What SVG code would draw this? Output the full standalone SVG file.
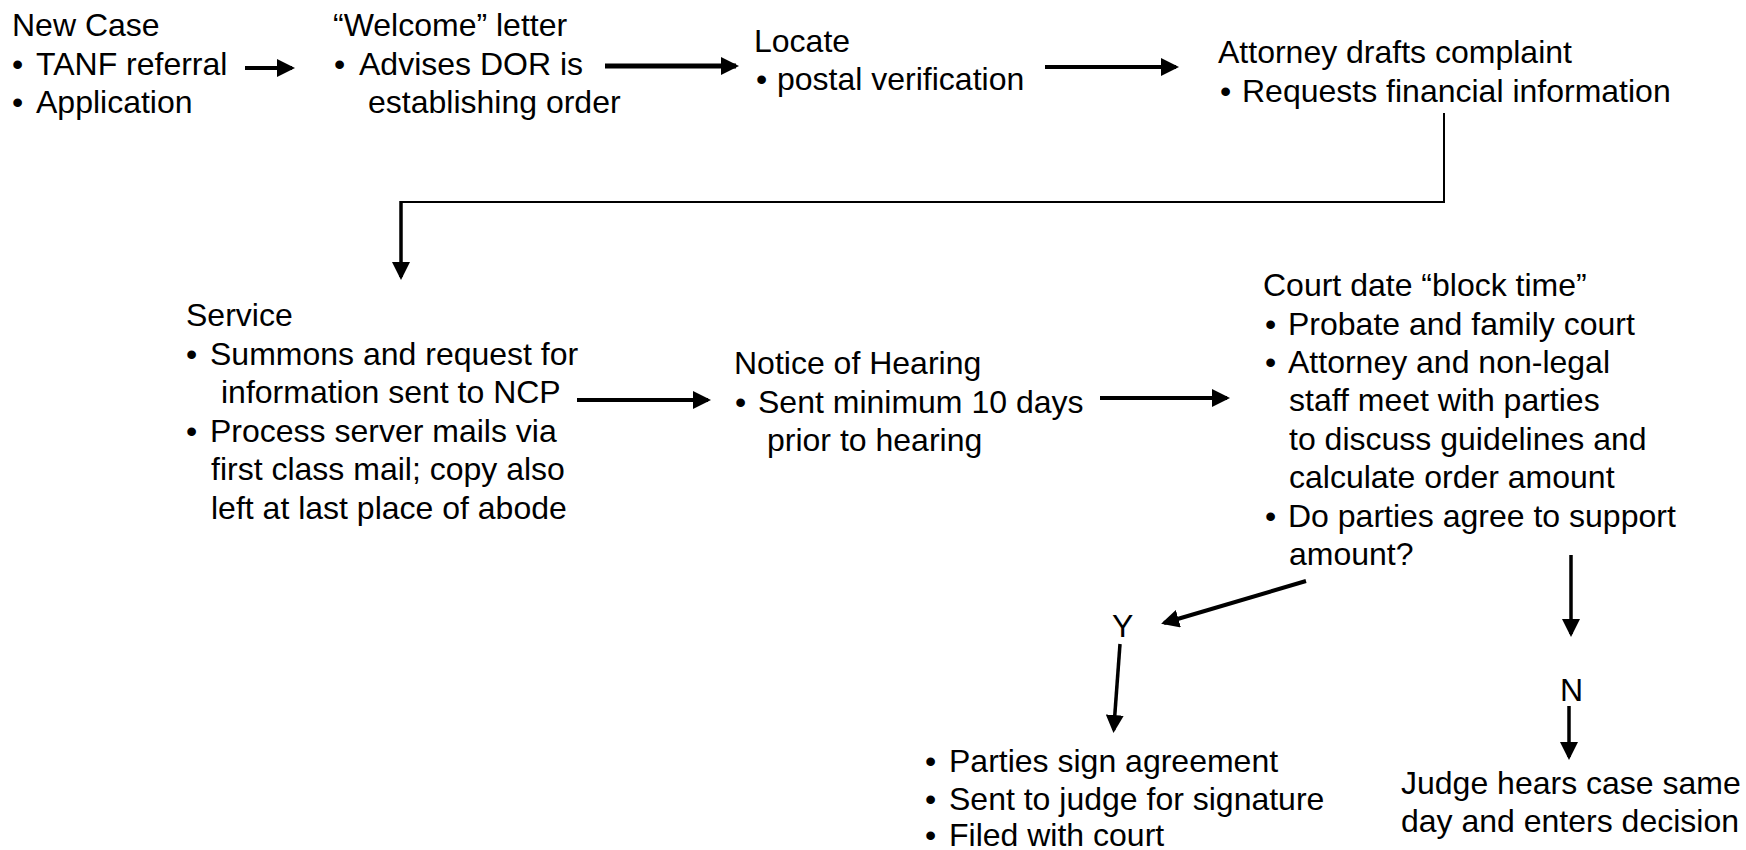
<svg xmlns="http://www.w3.org/2000/svg" width="1746" height="850" viewBox="0 0 1746 850">
<style>
text{font-family:"Liberation Sans",Arial,sans-serif;font-size:32px;fill:#000}
.c{fill:none;stroke:#000;stroke-linecap:butt}
.w2{stroke-width:2}
.w3{stroke-width:3.5}
.w4{stroke-width:4}
.w5{stroke-width:5}
</style>
<defs>
<marker id="ah" markerUnits="userSpaceOnUse" markerWidth="18" markerHeight="18" refX="15" refY="9" orient="auto" viewBox="0 0 18 18">
<path d="M0,0 L18,9 L0,18 z" fill="#000"/>
</marker>
</defs>
<rect width="1746" height="850" fill="#fff"/>
<g id="connectors">
<line class="c w4" x1="245" y1="68" x2="292" y2="68" marker-end="url(#ah)"/>
<line class="c w5" x1="605" y1="66" x2="736" y2="66" marker-end="url(#ah)"/>
<line class="c w4" x1="1045" y1="67" x2="1176" y2="67" marker-end="url(#ah)"/>
<polyline class="c w2" points="1444,113 1444,202 401,202"/>
<line class="c w3" x1="401" y1="201" x2="401" y2="277" marker-end="url(#ah)"/>
<line class="c w4" x1="577" y1="400" x2="708" y2="400" marker-end="url(#ah)"/>
<line class="c w4" x1="1100" y1="398" x2="1227" y2="398" marker-end="url(#ah)"/>
<line class="c w4" x1="1306" y1="581" x2="1164" y2="623" marker-end="url(#ah)"/>
<line class="c w3" x1="1120" y1="644" x2="1113.7" y2="730" marker-end="url(#ah)"/>
<line class="c w3" x1="1571" y1="555" x2="1571" y2="634" marker-end="url(#ah)"/>
<line class="c w3" x1="1569" y1="706" x2="1569" y2="757" marker-end="url(#ah)"/>
</g>
<g id="new-case">
<text x="12" y="36">New Case</text>
<text x="12" y="74.5">•</text>
<text x="36" y="74.5">TANF referral</text>
<text x="12" y="112.5">•</text>
<text x="36" y="112.5">Application</text>
</g>
<g id="welcome-letter">
<text x="333" y="36">“Welcome” letter</text>
<text x="334" y="74.5">•</text>
<text x="359" y="74.5">Advises DOR is</text>
<text x="368" y="113">establishing order</text>
</g>
<g id="locate">
<text x="754" y="52">Locate</text>
<text x="756" y="90">•</text>
<text x="777" y="90">postal verification</text>
</g>
<g id="attorney-drafts">
<text x="1218" y="63">Attorney drafts complaint</text>
<text x="1220" y="101.5">•</text>
<text x="1242" y="101.5">Requests financial information</text>
</g>
<g id="service">
<text x="186" y="326">Service</text>
<text x="186" y="364.5">•</text>
<text x="210" y="364.5">Summons and request for</text>
<text x="221" y="403">information sent to NCP</text>
<text x="186" y="442">•</text>
<text x="210" y="442">Process server mails via</text>
<text x="211" y="480">first class mail; copy also</text>
<text x="211" y="518.5">left at last place of abode</text>
</g>
<g id="notice-of-hearing">
<text x="734" y="374">Notice of Hearing</text>
<text x="735" y="413">•</text>
<text x="758" y="413">Sent minimum 10 days</text>
<text x="767" y="451">prior to hearing</text>
</g>
<g id="court-date">
<text x="1263" y="296">Court date “block time”</text>
<text x="1265" y="334.5">•</text>
<text x="1288" y="334.5">Probate and family court</text>
<text x="1265" y="373">•</text>
<text x="1288" y="373">Attorney and non-legal</text>
<text x="1289" y="411">staff meet with parties</text>
<text x="1289" y="450">to discuss guidelines and</text>
<text x="1289" y="488">calculate order amount</text>
<text x="1265" y="526.5">•</text>
<text x="1288" y="526.5">Do parties agree to support</text>
<text x="1289" y="565">amount?</text>
</g>
<g id="yes-label">
<text x="1112" y="637">Y</text>
</g>
<g id="no-label">
<text x="1560" y="701">N</text>
</g>
<g id="agreement">
<text x="925" y="772">•</text>
<text x="949" y="772">Parties sign agreement</text>
<text x="925" y="810">•</text>
<text x="949" y="810">Sent to judge for signature</text>
<text x="925" y="846">•</text>
<text x="949" y="846">Filed with court</text>
</g>
<g id="judge-hears">
<text x="1401" y="794">Judge hears case same</text>
<text x="1401" y="832">day and enters decision</text>
</g>
</svg>
